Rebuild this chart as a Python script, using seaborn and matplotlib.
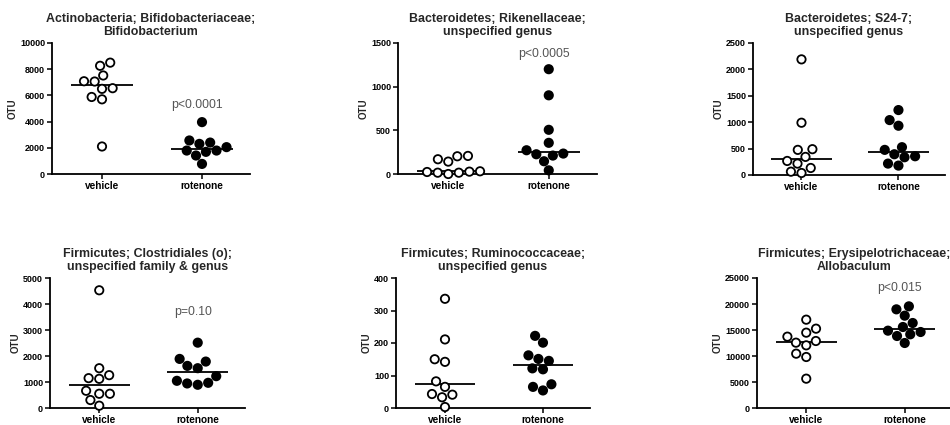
import numpy as np
import pandas as pd
import matplotlib
matplotlib.use("Agg")
import matplotlib.pyplot as plt
import seaborn as sns

sns.set_theme(style="ticks")
plt.rcParams['font.family'] = ['Liberation Sans', 'DejaVu Sans']

groups = ["vehicle", "rotenone"]

titles = [
    "Actinobacteria; Bifidobacteriaceae;\nBifidobacterium",
    "Bacteroidetes; Rikenellaceae;\nunspecified genus",
    "Bacteroidetes; S24-7;\nunspecified genus",
    "Firmicutes; Clostridiales (o);\nunspecified family & genus",
    "Firmicutes; Ruminococcaceae;\nunspecified genus",
    "Firmicutes; Erysipelotrichaceae;\nAllobaculum",
]

bifido_vehicle = [8500, 8260, 7520, 7060, 7080, 6550, 6500, 5880, 5700, 2100]
bifido_rotenone = [3960, 2560, 2300, 2400, 1790, 1690, 2050, 1790, 1410, 770]

riken_vehicle = [207, 169, 142, 203, 23, 15, 0, 15, 27, 31]
riken_rotenone = [1200, 901, 506, 272, 357, 226, 211, 234, 146, 42]

s24_vehicle = [2190, 990, 489, 476, 343, 266, 216, 133, 38, 63]
s24_rotenone = [1230, 1040, 933, 527, 476, 393, 336, 355, 178, 216]

clost_vehicle = [4528, 1530, 1263, 1122, 1148, 663, 548, 548, 306, 89]
clost_rotenone = [2513, 1888, 1620, 1531, 1786, 1224, 969, 893, 944, 1046]

rumino_vehicle = [336, 211, 150, 142, 82, 65, 43, 41, 33, 3]
rumino_rotenone = [222, 201, 151, 162, 145, 122, 119, 73, 65, 54]

allo_vehicle = [16987, 15256, 14487, 13718, 12564, 12885, 12051, 10449, 9808, 5641]
allo_rotenone = [19551, 18974, 17756, 16346, 15577, 14872, 14615, 14167, 13846, 12500]

y_max = [10000, 1500, 2500, 5000, 400, 25000]
y_step = [2000, 500, 500, 1000, 100, 5000]

p_labels = ["p<0.0001", "p<0.0005", None, "p=0.10", None, "p<0.015"]
p_y = [5270, 1375, None, 3700, None, 23100]

series = [
    (bifido_vehicle, bifido_rotenone),
    (riken_vehicle, riken_rotenone),
    (s24_vehicle, s24_rotenone),
    (clost_vehicle, clost_rotenone),
    (rumino_vehicle, rumino_rotenone),
    (allo_vehicle, allo_rotenone),
]

W, H = 950, 425
fig = plt.figure(figsize=(9.5, 4.25), dpi=100)

# axes rectangles in pixels: left, top, right, bottom
rects = [
    (52, 43, 250, 174),
    (398, 43, 597, 174),
    (753, 43, 945, 175),
    (50, 278, 245, 408),
    (396, 278, 590, 408),
    (757, 278, 952, 408),
]

for i in range(6):
    l, t, r, b = rects[i]
    ax = fig.add_axes([l / W, 1 - b / H, (r - l) / W, (b - t) / H])
    veh, rot = series[i]
    df = pd.DataFrame({
        "group": [groups[0]] * len(veh) + [groups[1]] * len(rot),
        "OTU": list(veh) + list(rot),
    })
    sns.swarmplot(data=df, x="group", y="OTU", hue="group", order=groups,
                  hue_order=groups, palette={"vehicle": "white", "rotenone": "black"},
                  edgecolor="black", linewidth=1.3, size=6.0, legend=False,
                  ax=ax, clip_on=False, zorder=3, warn_thresh=1.0)
    for coll in ax.collections:
        coll.set_clip_on(False)
    meds = [np.median(veh), np.median(rot)]
    for k, m in enumerate(meds):
        ax.hlines(m, k - 0.31, k + 0.31, color="black", linewidth=1.3, zorder=2)

    ax.set_xlim(-0.5, 1.48)
    ax.set_ylim(0, y_max[i])
    ax.set_yticks(np.arange(0, y_max[i] + 1, y_step[i]))
    ax.set_yticklabels([f"{int(v)}" for v in ax.get_yticks()],
                       fontsize=6.5, fontweight="bold")
    ax.set_xticks([0, 1])
    ax.set_xticklabels(groups, fontsize=7.2, fontweight="bold")
    ax.tick_params(axis="both", direction="out", length=3.5, width=1.1,
                   pad=1.5, colors="black")
    for s in ["top", "right"]:
        ax.spines[s].set_visible(False)
    for s in ["left", "bottom"]:
        ax.spines[s].set_linewidth(1.3)
        ax.spines[s].set_color("black")
    ax.set_xlabel("")
    ax.set_ylabel("OTU", fontsize=7, fontweight="bold", labelpad=2)
    ax.set_title(titles[i], fontsize=8.9, fontweight="bold", pad=6,
                 linespacing=1.1)
    if p_labels[i]:
        ax.text(0.95, p_y[i], p_labels[i], ha="center", va="center",
                fontsize=8.8, color="#555555")

fig.savefig("out.png", dpi=100)
